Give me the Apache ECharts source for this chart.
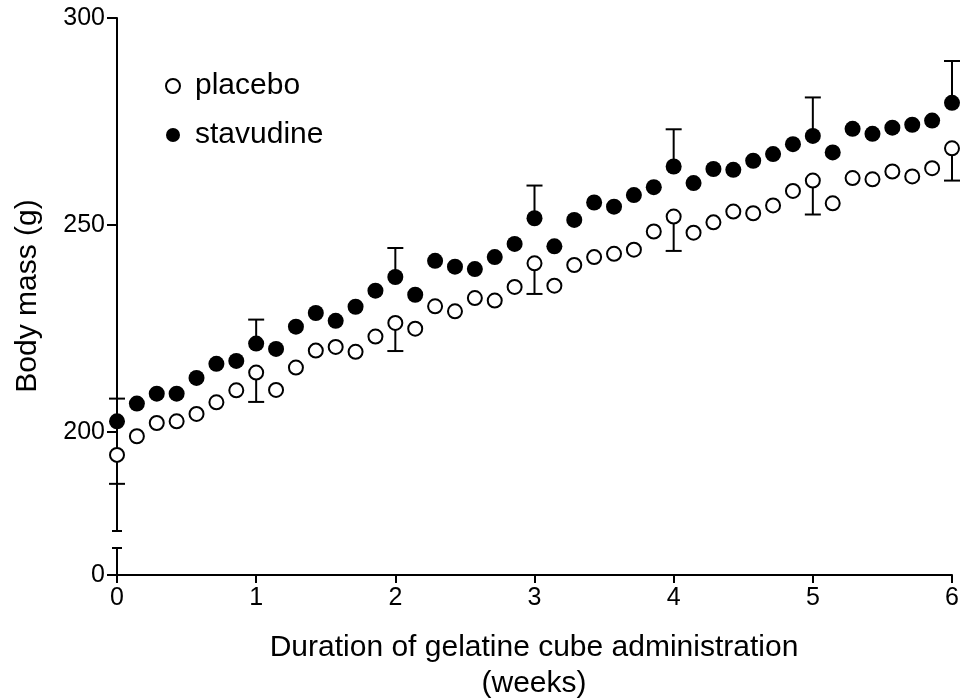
<!DOCTYPE html>
<html>
<head>
<meta charset="utf-8">
<script src="https://cdn.jsdelivr.net/npm/echarts@6/dist/echarts.min.js"></script>
<style>
  html, body { margin: 0; padding: 0; background: #fff; }
  #chart { width: 963px; height: 698px; }
</style>
</head>
<body>
<div id="chart"></div>
<script>
// Daily measurements over six weeks (day index; axis is labelled in weeks)
const days = [0, 1, 2, 3, 4, 5, 6, 7, 8, 9, 10, 11, 12, 13, 14, 15, 16, 17, 18, 19, 20,
  21, 22, 23, 24, 25, 26, 27, 28, 29, 30, 31, 32, 33, 34, 35, 36, 37, 38, 39, 40, 41, 42];
const weekTickLabels = ['0', '1', '2', '3', '4', '5', '6'];
const upperTickValues = [200, 250, 300];
const lowerTickValues = [0];

// Mean body mass (g)
const placebo = [194.4, 198.9, 202.1, 202.5, 204.3, 207.1, 210.0, 214.3, 210.1, 215.5,
  219.6, 220.5, 219.3, 223.0, 226.3, 224.9, 230.3, 229.1, 232.3, 231.7, 235.0,
  240.7, 235.3, 240.3, 242.2, 243.0, 244.0, 248.4, 252.0, 248.1, 250.6, 253.2,
  252.8, 254.7, 258.2, 260.7, 255.2, 261.3, 261.0, 262.9, 261.7, 263.7, 268.5];
const stavudine = [202.5, 206.8, 209.2, 209.2, 213.0, 216.4, 217.1, 221.3, 220.0, 225.4,
  228.7, 226.8, 230.2, 234.1, 237.4, 233.1, 241.3, 239.9, 239.3, 242.2, 245.4,
  251.6, 244.8, 251.2, 255.4, 254.4, 257.2, 259.1, 264.1, 260.1, 263.5, 263.3,
  265.5, 267.1, 269.5, 271.5, 267.5, 273.2, 272.0, 273.5, 274.2, 275.2, 279.5];

// Error bars at the end of each week (placebo drawn downwards, stavudine upwards)
const errorDays = [0, 7, 14, 21, 28, 35, 42];
const placeboSD = [7.0, 7.1, 6.8, 7.4, 8.3, 8.2, 7.8];
const stavudineSD = [5.5, 5.8, 7.0, 7.9, 9.0, 9.3, 10.1];

const FONT = '"Liberation Sans", Arial, Helvetica, sans-serif';
const UPPER_MIN = 176, UPPER_MAX = 300;
const LOWER_MIN = 0, LOWER_MAX = 10;

const chart = echarts.init(document.getElementById('chart'), null, { renderer: 'canvas' });

function pairs(values) {
  return days.map((d, i) => [d, values[i]]);
}

function errorBars(name, means, sds, dir) {
  return {
    name: name,
    type: 'custom',
    xAxisIndex: 0,
    yAxisIndex: 0,
    z: 1,
    silent: true,
    encode: { x: 0, y: 1 },
    data: errorDays.map((d, i) => [d, means[days.indexOf(d)], sds[i]]),
    renderItem: function (params, api) {
      const x = api.value(0), m = api.value(1), s = api.value(2);
      const p0 = api.coord([x, m]);
      const p1 = api.coord([x, m + dir * s]);
      const half = 8;
      return {
        type: 'group',
        children: [
          { type: 'line', shape: { x1: p0[0], y1: p0[1], x2: p1[0], y2: p1[1] },
            style: { stroke: '#000', lineWidth: 2 } },
          { type: 'line', shape: { x1: p1[0] - half, y1: p1[1], x2: p1[0] + half, y2: p1[1] },
            style: { stroke: '#000', lineWidth: 2 } }
        ]
      };
    }
  };
}

// Short cross-bar marking the end of an axis segment at the break
function breakMark(gridIdx, yVal) {
  return {
    type: 'custom',
    xAxisIndex: gridIdx,
    yAxisIndex: gridIdx,
    silent: true,
    z: 5,
    encode: { x: 0, y: 1 },
    data: [[0, yVal]],
    renderItem: function (params, api) {
      const p = api.coord([api.value(0), api.value(1)]);
      return { type: 'line', shape: { x1: p[0] - 5, y1: p[1], x2: p[0] + 5, y2: p[1] },
        style: { stroke: '#000', lineWidth: 2 } };
    }
  };
}

const axisLine = { show: true, onZero: false, lineStyle: { color: '#000', width: 2 } };

chart.setOption({
  animation: false,
  backgroundColor: '#fff',
  textStyle: { fontFamily: FONT },
  grid: [
    { left: 117, right: 11, top: 18, height: 513 },
    { left: 117, right: 11, top: 548, height: 27 }
  ],
  xAxis: [
    { gridIndex: 0, type: 'value', min: 0, max: 42, interval: 7, show: false },
    {
      gridIndex: 1, type: 'value', min: 0, max: 42, interval: 7,
      axisLine: axisLine,
      axisTick: { show: true, inside: false, length: 8, lineStyle: { color: '#000', width: 2 } },
      axisLabel: {
        color: '#000', fontSize: 25, fontFamily: FONT, margin: 11,
        formatter: function (v) { return weekTickLabels[Math.round(v / 7)]; }
      },
      splitLine: { show: false }
    }
  ],
  yAxis: [
    {
      gridIndex: 0, type: 'value', min: UPPER_MIN, max: UPPER_MAX,
      axisLine: axisLine,
      axisTick: { show: true, inside: false, length: 10, customValues: upperTickValues,
        lineStyle: { color: '#000', width: 2 } },
      axisLabel: { color: '#000', fontSize: 25, fontFamily: FONT, margin: 12,
        customValues: upperTickValues },
      splitLine: { show: false }
    },
    {
      gridIndex: 1, type: 'value', min: LOWER_MIN, max: LOWER_MAX,
      axisLine: axisLine,
      axisTick: { show: true, inside: false, length: 10, customValues: lowerTickValues,
        lineStyle: { color: '#000', width: 2 } },
      axisLabel: { color: '#000', fontSize: 25, fontFamily: FONT, margin: 12,
        customValues: lowerTickValues },
      splitLine: { show: false }
    }
  ],
  legend: {
    orient: 'vertical',
    left: 165,
    top: 70,
    padding: 0,
    itemWidth: 34,
    itemHeight: 14,
    itemGap: 17,
    textStyle: { color: '#000', fontSize: 30, fontFamily: FONT, lineHeight: 32, padding: 0 },
    data: [
      { name: 'placebo', icon: 'circle',
        itemStyle: { color: '#fff', borderColor: '#000', borderWidth: 2 } },
      { name: 'stavudine', icon: 'circle', itemStyle: { color: '#000', borderWidth: 0 } }
    ]
  },
  graphic: [
    {
      type: 'text', x: 28, y: 296, rotation: Math.PI / 2,
      style: { text: 'Body mass (g)', fill: '#000', fontSize: 30, fontFamily: FONT,
        textAlign: 'center', textVerticalAlign: 'middle' }
    },
    {
      type: 'text', x: 534, y: 630,
      style: { text: 'Duration of gelatine cube administration\n(weeks)', fill: '#000',
        fontSize: 30, fontFamily: FONT, lineHeight: 36,
        textAlign: 'center', textVerticalAlign: 'top' }
    }
  ],
  series: [
    errorBars('placebo', placebo, placeboSD, -1),
    errorBars('stavudine', stavudine, stavudineSD, 1),
    {
      name: 'placebo', type: 'scatter', xAxisIndex: 0, yAxisIndex: 0, z: 3,
      symbol: 'circle', symbolSize: 14,
      itemStyle: { color: '#fff', borderColor: '#000', borderWidth: 2, opacity: 1 },
      data: pairs(placebo)
    },
    {
      name: 'stavudine', type: 'scatter', xAxisIndex: 0, yAxisIndex: 0, z: 3,
      symbol: 'circle', symbolSize: 16,
      itemStyle: { color: '#000', opacity: 1 },
      data: pairs(stavudine)
    },
    breakMark(0, UPPER_MIN),
    breakMark(1, LOWER_MAX)
  ]
});
</script>
</body>
</html>
